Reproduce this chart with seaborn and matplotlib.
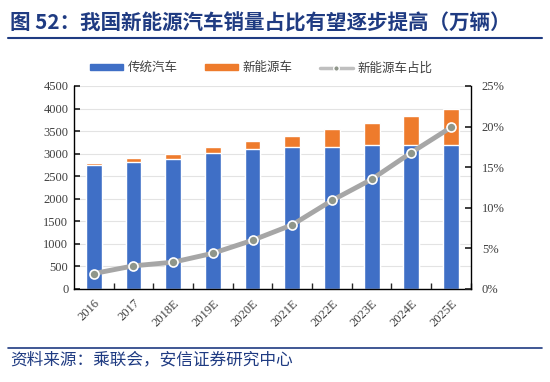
import numpy as np
import matplotlib
matplotlib.use("Agg")
import matplotlib.pyplot as plt
from matplotlib.patches import Patch
from matplotlib.lines import Line2D
import seaborn as sns

# Données
years = ["2016", "2017", "2018E", "2019E", "2020E", "2021E", "2022E", "2023E", "2024E", "2025E"]
traditional = [2750, 2820, 2885, 3010, 3100, 3140, 3155, 3185, 3185, 3185]
total = [2800, 2895, 3000, 3140, 3290, 3390, 3540, 3690, 3835, 3985]
nev_share = [1.9, 2.85, 3.3, 4.4, 6.0, 7.9, 10.9, 13.5, 16.8, 19.9]

blue = "#3f6fc6"
orange = "#ee7b2c"
grey = "#a6a6a6"
navy = "#1f3b82"

sns.set_theme(style="white")
plt.rcParams['font.family'] = ['Noto Sans CJK SC', 'DejaVu Sans']

fig = plt.figure(figsize=(5.5, 3.82), dpi=100)
ax = fig.add_axes([0.1345, 0.2435, 0.7215, 0.5314])

# Barres empilées : total (orange) puis traditionnel (bleu) par-dessus
sns.barplot(x=years, y=total, color=orange, width=0.4, saturation=1, ax=ax)
sns.barplot(x=years, y=traditional, color=blue, width=0.4, saturation=1, ax=ax)

ax.set_ylim(0, 4500)
ax.set_yticks(np.arange(0, 4501, 500))
ax.set_xlim(-0.5, len(years) - 0.5)
ax.yaxis.grid(True, color="#e3e3e3", linewidth=0.8)
ax.set_axisbelow(True)
for s in ["top", "right"]:
    ax.spines[s].set_visible(False)
for s in ["left", "bottom"]:
    ax.spines[s].set_color("black")
    ax.spines[s].set_linewidth(1.0)
ax.tick_params(axis="y", direction="in", length=4, left=True, labelsize=9, pad=4)
ax.set_xticks(np.arange(len(years)))
ax.set_xticklabels(years, rotation=45, ha="right", rotation_mode="anchor", fontsize=9)
ax.tick_params(axis="x", length=0, pad=6)
ax.set_xticks(np.arange(len(years)) + 0.5, minor=True)
ax.tick_params(axis="x", which="minor", direction="in", length=4, bottom=True)
for lab in ax.get_xticklabels() + ax.get_yticklabels():
    lab.set_fontfamily("Liberation Serif")
    lab.set_color("#404040")

# Axe secondaire : part des véhicules à énergie nouvelle
ax2 = ax.twinx()
sns.lineplot(x=np.arange(len(years)), y=nev_share, color=grey, linewidth=3.5,
             marker="o", markersize=6.5, markerfacecolor="#8f968a",
             markeredgecolor="white", markeredgewidth=1.2, ax=ax2)
ax2.set_ylim(0, 25)
ax2.set_yticks(np.arange(0, 26, 5))
ax2.set_yticklabels([f"{v}%" for v in range(0, 26, 5)])
ax2.tick_params(axis="y", direction="in", length=4, right=True, labelsize=9, pad=8)
for lab in ax2.get_yticklabels():
    lab.set_fontfamily("Liberation Serif")
    lab.set_color("#404040")
for s in ["top", "left", "bottom"]:
    ax2.spines[s].set_visible(False)
ax2.spines["right"].set_color("black")
ax2.spines["right"].set_linewidth(1.0)
ax2.grid(False)

# Légende
handles = [Patch(color=blue, label="传统汽车"),
           Patch(color=orange, label="新能源车"),
           Line2D([0], [0], color="#bfbfbf", linewidth=2.5, marker="o", markersize=4,
                  markerfacecolor="#8f968a", markeredgecolor="white", label="新能源车占比")]
fig.legend(handles=handles, loc="center", bbox_to_anchor=(0.475, 0.822), ncol=3,
           frameon=False, fontsize=9, handlelength=2.6, handleheight=0.45,
           columnspacing=2.2, handletextpad=0.4, labelcolor="#404040")

# Titre et source
fig.text(0.018, 0.94, "图 52：我国新能源汽车销量占比有望逐步提高（万辆）", fontsize=14.8,
         fontweight="bold", color=navy, va="center", ha="left")
fig.add_artist(Line2D([0.015, 0.985], [0.901, 0.901], color=navy, linewidth=1.5))
fig.add_artist(Line2D([0.015, 0.985], [0.089, 0.089], color=navy, linewidth=1.2))
fig.text(0.018, 0.058, "资料来源：乘联会，安信证券研究中心", fontsize=12, style="italic",
         color=navy, va="center", ha="left")

fig.savefig("out.png", dpi=100)
